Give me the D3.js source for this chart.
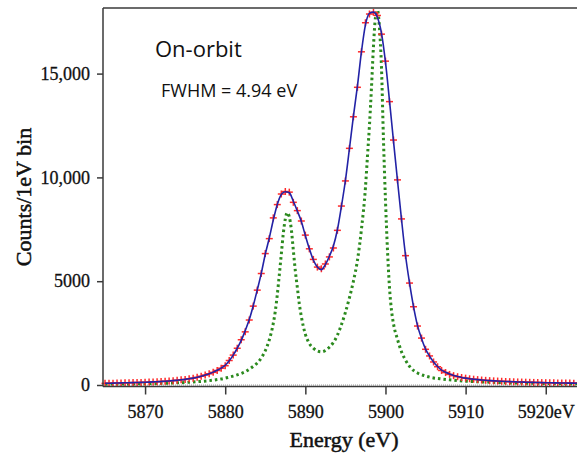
<!DOCTYPE html>
<html><head><meta charset="utf-8">
<script src="https://cdn.jsdelivr.net/npm/d3@7"></script>
<style>body{margin:0;background:#fff}svg{display:block}</style>
</head><body>
<script>
// Measured spectrum (red crosses), 0.5 eV steps
const dataEnergy = [5865,5865.5,5866,5866.5,5867,5867.5,5868,5868.5,5869,5869.5,5870,5870.5,5871,5871.5,5872,5872.5,5873,5873.5,5874,5874.5,5875,5875.5,5876,5876.5,5877,5877.5,5878,5878.5,5879,5879.5,5880,5880.5,5881,5881.5,5882,5882.5,5883,5883.5,5884,5884.5,5885,5885.5,5886,5886.5,5887,5887.5,5888,5888.5,5889,5889.5,5890,5890.5,5891,5891.5,5892,5892.5,5893,5893.5,5894,5894.5,5895,5895.5,5896,5896.5,5897,5897.5,5898,5898.5,5899,5899.5,5900,5900.5,5901,5901.5,5902,5902.5,5903,5903.5,5904,5904.5,5905,5905.5,5906,5906.5,5907,5907.5,5908,5908.5,5909,5909.5,5910,5910.5,5911,5911.5,5912,5912.5,5913,5913.5,5914,5914.5,5915,5915.5,5916,5916.5,5917,5917.5,5918,5918.5,5919,5919.5,5920,5920.5,5921,5921.5,5922,5922.5,5923,5923.5,5924];
const dataCounts = [80,85,90,95,100,105,110,115,120,125,130,140,150,160,170,180,195,210,230,250,270,300,330,370,420,480,540,610,700,810,930,1180,1440,1770,2180,2560,3130,3800,4570,5370,6330,7050,8050,8690,9200,9320,9290,8800,8400,7900,7220,6560,6050,5680,5600,5830,6170,6600,7450,8620,9830,11400,12920,14340,16050,17450,17870,17950,17800,16900,15600,13650,11800,9880,8000,6230,4910,3770,2840,2260,1720,1400,1110,880,700,600,510,450,400,360,330,300,280,260,240,225,210,200,190,180,170,162,155,148,142,136,130,125,120,116,112,108,104,100,97,94,91,88,85];
// Fitted model (blue line), same energies
const modelCounts = [82,86,90,95,100,105,110,115,120,126,132,140,150,160,170,182,196,212,230,250,272,300,332,372,420,478,545,620,710,815,950,1170,1440,1770,2150,2620,3150,3820,4580,5380,6300,7080,7950,8700,9180,9310,9260,8850,8380,7880,7200,6560,6020,5680,5560,5800,6200,6700,7480,8600,9850,11380,12950,14400,16050,17350,17900,17960,17700,16950,15550,13700,11750,9850,7980,6250,4920,3780,2860,2240,1730,1390,1110,890,720,610,530,460,405,365,330,302,280,260,242,226,212,200,190,180,171,163,155,148,142,136,130,125,120,116,112,108,104,100,97,94,91,88,86];
// Intrinsic line shape (green dotted)
const intrinsicEnergy = [5865,5867,5870,5872,5874,5875,5876,5877,5878,5879,5879.5,5880,5880.5,5881,5881.5,5882,5882.5,5883,5883.5,5884,5884.5,5885,5885.5,5886,5886.25,5886.5,5886.75,5887,5887.25,5887.5,5887.75,5888,5888.25,5888.5,5888.75,5889,5889.25,5889.5,5890,5890.5,5891,5891.5,5892,5892.5,5893,5893.5,5894,5894.5,5895,5895.5,5896,5896.5,5897,5897.5,5897.75,5898,5898.25,5898.5,5898.75,5899,5899.25,5899.5,5899.75,5900,5900.25,5900.5,5900.75,5901,5901.5,5902,5902.5,5903,5903.5,5904,5905,5906,5907,5908,5909,5910,5912,5914,5916,5918,5920,5922,5924];
const intrinsicCounts = [40,48,60,80,105,120,145,175,210,260,290,330,380,430,490,560,640,760,900,1060,1300,1650,2170,2970,3550,4350,5300,6300,7300,8000,8300,8100,7500,6500,5500,4700,3900,3300,2450,2000,1780,1640,1600,1660,1820,2050,2400,2900,3500,4200,5000,6000,7500,9500,11000,12500,14300,16300,17700,18050,17200,15300,11800,8900,6500,4700,3600,2950,2200,1600,1200,900,700,580,430,340,290,250,210,185,150,120,100,85,75,65,60];
const xTicks = [5870,5880,5890,5900,5910,5920];
const xTickLabels = ["5870","5880","5890","5900","5910","5920eV"];
const yTicks = [0,5000,10000,15000];
const yTickLabels = ["0","5000","10,000","15,000"];

const W = 577, H = 456;
const svg = d3.select("body").append("svg").attr("width", W).attr("height", H);
const x = d3.scaleLinear().domain([5864.75, 5923.9]).range([103, 577]);
const y = d3.scaleLinear().domain([0, 18160]).range([385, 8]);
const axisY = 386.5;
const ax = "#3a3a3a";
const serif = "Liberation Serif, Times New Roman, serif";

// zero dotted baseline
svg.append("line").attr("x1", 103).attr("x2", 577).attr("y1", y(0)).attr("y2", y(0))
  .attr("stroke", "#9a9a9a").attr("stroke-width", 1).attr("stroke-dasharray", "1,1");

// green intrinsic
const pts2 = intrinsicEnergy.map((e, i) => [e, intrinsicCounts[i]]);
svg.append("path").datum(pts2)
  .attr("d", d3.line().x(d => x(d[0])).y(d => y(d[1])).curve(d3.curveMonotoneX))
  .attr("fill", "none").attr("stroke", "#2b8a1e").attr("stroke-width", 3)
  .attr("stroke-dasharray", "2.5,3");

// red crosses
const cs = 3.5;
const crosses = svg.append("g").attr("stroke", "#ff2a2a").attr("stroke-width", 1.5);
dataEnergy.forEach((e, i) => {
  const cx = x(e), cy = y(dataCounts[i]);
  crosses.append("line").attr("x1", cx - cs).attr("x2", cx + cs).attr("y1", cy).attr("y2", cy);
  crosses.append("line").attr("x1", cx).attr("x2", cx).attr("y1", cy - cs).attr("y2", cy + cs);
});

// blue model line
const pts1 = dataEnergy.map((e, i) => [e, modelCounts[i]]);
svg.append("path").datum(pts1)
  .attr("d", d3.line().x(d => x(d[0])).y(d => y(d[1])).curve(d3.curveMonotoneX))
  .attr("fill", "none").attr("stroke", "#2222a6").attr("stroke-width", 1.6);

// frame: left and top
svg.append("line").attr("x1", 103).attr("x2", 103).attr("y1", 8).attr("y2", axisY)
  .attr("stroke", ax).attr("stroke-width", 1.5);
svg.append("line").attr("x1", 103).attr("x2", 577).attr("y1", 8).attr("y2", 8)
  .attr("stroke", ax).attr("stroke-width", 1.5);

// x axis
const gx = svg.append("g").attr("transform", `translate(0,${axisY})`)
  .call(d3.axisBottom(x).tickValues(xTicks).tickSize(8).tickSizeOuter(0)
    .tickFormat((d, i) => xTickLabels[i]));
gx.select(".domain").attr("stroke", ax).attr("stroke-width", 1.5).attr("d", "M103,0H577");
gx.selectAll(".tick line").attr("stroke", ax).attr("stroke-width", 1.5);
gx.selectAll(".tick text").attr("font-family", serif)
  .attr("font-size", 18).attr("fill", "#111").attr("stroke", "#111").attr("stroke-width", 0.3)
  .attr("y", 31).attr("dy", 0);

// y axis
const gy = svg.append("g").attr("transform", "translate(103,0)")
  .call(d3.axisLeft(y).tickValues(yTicks).tickSize(6).tickSizeOuter(0)
    .tickFormat((d, i) => yTickLabels[i]));
gy.select(".domain").remove();
gy.selectAll(".tick line").attr("stroke", ax).attr("stroke-width", 1.5);
gy.selectAll(".tick text").attr("font-family", serif)
  .attr("font-size", 18).attr("fill", "#111").attr("stroke", "#111").attr("stroke-width", 0.3)
  .attr("x", -13);

// axis titles
svg.append("text").attr("x", 344).attr("y", 447).attr("text-anchor", "middle")
  .attr("font-family", serif).attr("font-size", 22)
  .attr("fill", "#111").attr("stroke", "#111").attr("stroke-width", 0.5).text("Energy (eV)");
svg.append("text").attr("transform", "translate(31,197) rotate(-90)").attr("text-anchor", "middle")
  .attr("font-family", serif).attr("font-size", 22)
  .attr("fill", "#111").attr("stroke", "#111").attr("stroke-width", 0.5).text("Counts/1eV bin");

// annotations
svg.append("text").attr("x", 155).attr("y", 57)
  .attr("font-family", "Open Sans, sans-serif").attr("font-size", 22).attr("fill", "#111").text("On-orbit");
svg.append("text").attr("x", 161).attr("y", 97)
  .attr("font-family", "Open Sans, sans-serif").attr("font-size", 18).attr("fill", "#111").text("FWHM = 4.94 eV");
</script>
</body></html>
